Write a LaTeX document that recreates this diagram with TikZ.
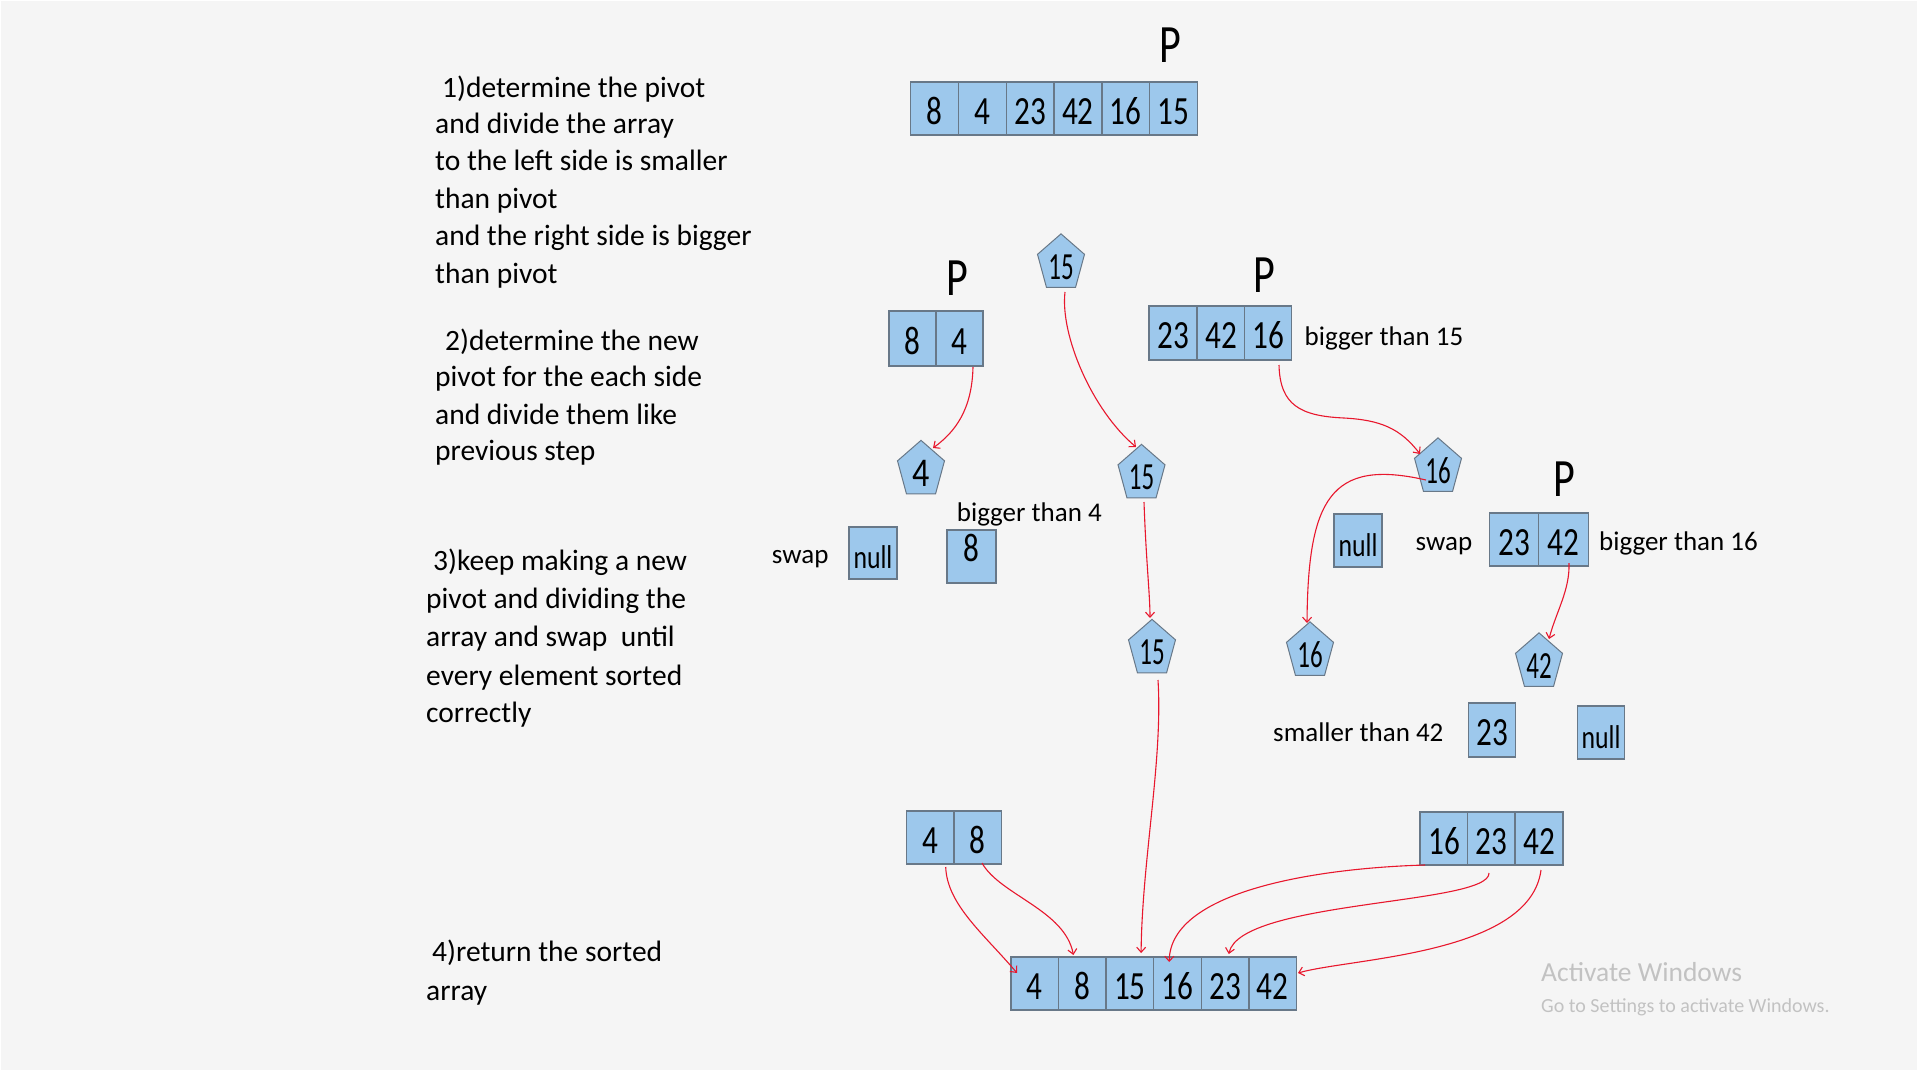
\documentclass[tikz,border=0pt]{standalone}
\usepackage{fontspec}
\setmainfont{Carlito}
\newfontfamily\numfam[FakeStretch=0.78]{Carlito}
\usetikzlibrary{shapes.geometric,arrows.meta,calc}
\definecolor{bgc}{HTML}{F5F5F5}
\definecolor{cellblue}{HTML}{9DC8EC}
\definecolor{cellline}{HTML}{687888}
\definecolor{arrred}{HTML}{E8172D}
\definecolor{wingray}{HTML}{C2C2C2}
\newcommand\stepfont{\fontsize{29.5pt}{37pt}\selectfont}
\newcommand\lblfont{\fontsize{27pt}{32pt}\selectfont}
\newcommand\cellfont{\numfam\fontsize{40pt}{44pt}\selectfont}
\newcommand\nulltxtfont{\numfam\fontsize{33pt}{40pt}\selectfont}
\newcommand\pentfont{\numfam\fontsize{32pt}{36pt}\selectfont}
\newcommand\pentbigfont{\fontsize{34pt}{38pt}\selectfont}
\newcommand\pfont{\numfam\fontsize{54pt}{60pt}\selectfont}
\newcommand\winbig{\fontsize{27.5pt}{30pt}\selectfont}
\newcommand\winsmall{\fontsize{20pt}{22pt}\selectfont}
\begin{document}
\begin{tikzpicture}[x=1pt, y=-1pt,
  cell/.style={draw=cellline, fill=cellblue, line width=1.4pt, minimum width=48pt, minimum height=54pt,
    inner sep=0pt, outer sep=0pt, text height=31pt, text depth=0pt, font=\cellfont},
  nullbox/.style={cell, font=\nulltxtfont},
  pent/.style={regular polygon, regular polygon sides=5, minimum size=49.4pt, draw=cellline, fill=cellblue,
    line width=1pt, inner sep=0pt, outer sep=0pt, yscale=1.2, transform shape, font=\pentfont,
    text height=26pt, text depth=0pt},
  lbl/.style={anchor=base west, inner sep=0pt, font=\lblfont},
  stepline/.style={anchor=base west, inner sep=0pt, font=\stepfont},
  pmark/.style={inner sep=0pt, font=\pfont},
  arr/.style={draw=arrred, line width=1.1pt, -{Straight Barb[length=5pt,width=9pt]}}
]
\useasboundingbox (0,0) rectangle (1920,1080);
\fill[white] (0,0) rectangle (1920,1080);
\fill[bgc] (1,1) rectangle (1917,1070);

% ---- step texts ----
\node[stepline] (s1a) at (442,97) {1)determine the pivot};
\node[stepline] (s1b) at (435,133.3) {and divide the array};
\node[stepline] (s1c) at (435,170.7) {to the left side is smaller};
\node[stepline] (s1d) at (435,208.3) {than pivot};
\node[stepline] (s1e) at (435,245.7) {and the right side is bigger};
\node[stepline] (s1f) at (435,283.3) {than pivot};
\node[stepline] (s2a) at (445,350) {2)determine the new};
\node[stepline] (s2b) at (435,386.7) {pivot for the each side};
\node[stepline] (s2c) at (435,424) {and divide them like};
\node[stepline] (s2d) at (435,460.7) {previous step};
\node[stepline] (s3a) at (433,570) {3)keep making a new};
\node[stepline] (s3b) at (426,608.3) {pivot and dividing the};
\node[stepline] (s3c) at (426,646.7) {array and swap\ \ until};
\node[stepline] (s3d) at (426,685) {every element sorted};
\node[stepline] (s3e) at (426,722.7) {correctly};
\node[stepline] (s4a) at (432,961.7) {4)return the sorted};
\node[stepline] (s4b) at (426,1000) {array};

% ---- top array ----
\node[cell, minimum width=47.8pt, minimum height=53pt] (t1) at (934.5,108.5) {8};
\node[cell, minimum width=47.8pt, minimum height=53pt] (t2) at (982.3,108.5) {4};
\node[cell, minimum width=47.8pt, minimum height=53pt] (t3) at (1030.1,108.5) {23};
\node[cell, minimum width=47.8pt, minimum height=53pt] (t4) at (1077.9,108.5) {42};
\node[cell, minimum width=47.8pt, minimum height=53pt] (t5) at (1125.7,108.5) {16};
\node[cell, minimum width=47.8pt, minimum height=53pt] (t6) at (1173.5,108.5) {15};
\node[pmark] (ptop) at (1170,45) {P};

% ---- left half ----
\node[cell, minimum width=47pt, minimum height=55pt] (a1) at (912.5,338.5) {8};
\node[cell, minimum width=47pt, minimum height=55pt] (a2) at (959.5,338.5) {4};
\node[pmark] (pa) at (957,278) {P};
\node[pent] (pt15) at (1061,263.5) {15};
\node[pent, font=\pentbigfont, text height=27pt] (p4) at (921,470) {4};
\node[pent] (p15m) at (1141.5,474) {15};
\node[lbl] (lb4) at (956.7,521.7) {bigger than 4};
\node[lbl] (sw1) at (771.7,563) {swap};
\node[nullbox, minimum width=48pt, minimum height=52pt] (n1) at (873,553) {null};
\node[cell, minimum width=49pt, minimum height=53pt, text height=25.3pt, text depth=16pt] (e8) at (971.5,556.5) {8};
\node[pent] (p15l) at (1152,649) {15};

% ---- right half ----
\node[cell, minimum width=48pt] (b1) at (1173,333) {23};
\node[cell, minimum width=47.5pt] (b2) at (1221,333) {42};
\node[cell, minimum width=47.5pt] (b3) at (1268,333) {16};
\node[pmark] (pb) at (1264,275) {P};
\node[lbl] (lb15) at (1304.5,345) {bigger than 15};
\node[pent] (p16r) at (1438,467.5) {16};
\node[nullbox, minimum width=48pt, minimum height=53pt] (n2) at (1358,540.5) {null};
\node[lbl] (sw2) at (1415.5,550) {swap};
\node[cell, minimum width=49.5pt, minimum height=53pt] (c1) at (1514,539.5) {23};
\node[cell, minimum width=49.5pt, minimum height=53pt] (c2) at (1563.5,539.5) {42};
\node[pmark] (pc) at (1564,479) {P};
\node[lbl] (lb16) at (1599,550) {bigger than 16};
\node[pent] (p16l) at (1310,651.5) {16};
\node[pent] (p42) at (1539,662.5) {42};
\node[lbl] (lb42) at (1273,741.7) {smaller than 42};
\node[cell, minimum width=47.5pt, minimum height=54pt] (e23) at (1492,730) {23};
\node[nullbox, minimum width=47.5pt, minimum height=53pt] (n3) at (1601,732.5) {null};

% ---- bottom ----
\node[cell, minimum width=47.5pt, minimum height=53pt] (d1) at (930,837.5) {4};
\node[cell, minimum width=47.5pt, minimum height=53pt] (d2) at (977.6,837.5) {8};
\node[cell, minimum width=47.7pt, minimum height=53pt] (g1) at (1444,838.5) {16};
\node[cell, minimum width=47.7pt, minimum height=53pt] (g2) at (1491.5,838.5) {23};
\node[cell, minimum width=47.7pt, minimum height=53pt] (g3) at (1539,838.5) {42};
\node[cell, minimum width=47.6pt, minimum height=53pt] (f1) at (1034.8,983.5) {4};
\node[cell, minimum width=47.6pt, minimum height=53pt] (f2) at (1082.4,983.5) {8};
\node[cell, minimum width=47.6pt, minimum height=53pt] (f3) at (1129.9,983.5) {15};
\node[cell, minimum width=47.6pt, minimum height=53pt] (f4) at (1177.5,983.5) {16};
\node[cell, minimum width=47.6pt, minimum height=53pt] (f5) at (1225.1,983.5) {23};
\node[cell, minimum width=47.6pt, minimum height=53pt] (f6) at (1272.6,983.5) {42};

% ---- arrows ----
\draw[arr] ([shift={(13.5,1)}]a2.south) .. controls (972,410) and (955,432) .. ([shift={(12,-22)}]p4.center);
\draw[arr] ([shift={(4,28.5)}]pt15.center) .. controls (1060,335) and (1092,410) .. ([shift={(-5.5,-27)}]p15m.center);
\draw[arr] ([shift={(2.5,28)}]p15m.center) .. controls (1146,560) and (1150,595) .. ([shift={(-2,-31)}]p15l.center);
\draw[arr] ([shift={(11,32)}]b3.center) .. controls (1280,405) and (1300,416) .. (1344,418)
  .. controls (1380,420) and (1400,428) .. ([shift={(-18,-13.5)}]p16r.center);
\draw[arr] ([shift={(-12,12.5)}]p16r.center) .. controls (1330,458) and (1308,500) .. ([shift={(-3,-28.5)}]p16l.center);
\draw[arr] ([shift={(5.5,23.5)}]c2.center) .. controls (1570,590) and (1556,612) .. ([shift={(10,-23.5)}]p42.center);
\draw[arr] ([shift={(15.7,29.5)}]d1.center) .. controls (947,905) and (985,935) .. ([shift={(-17.8,-10.5)}]f1.center);
\draw[arr] ([shift={(4.4,25.5)}]d2.center) .. controls (1000,895) and (1065,910) .. ([shift={(-9,-28.5)}]f2.center);
\draw[arr] ([shift={(6,31)}]p15l.center) .. controls (1163,760) and (1142,860) .. ([shift={(11.2,-30.5)}]f3.center);
\draw[arr] ([shift={(-19,26.5)}]g1.center) .. controls (1320,868) and (1170,890) .. ([shift={(-8.3,-21.5)}]f4.center);
\draw[arr] ([shift={(-2.5,34.5)}]g2.center) .. controls (1490,905) and (1240,900) .. ([shift={(3.7,-29.5)}]f5.center);
\draw[arr] ([shift={(2,31.5)}]g3.center) .. controls (1530,955) and (1350,958) .. ([shift={(1.6,-10.5)}]f6.east);

% ---- watermark ----
\node[anchor=base west, inner sep=0pt, font=\winbig, text=wingray] (wa) at (1541,981) {Activate Windows};
\node[anchor=base west, inner sep=0pt, font=\winsmall, text=wingray] (wb) at (1541,1012) {Go to Settings to activate Windows.};
\end{tikzpicture}
\end{document}
